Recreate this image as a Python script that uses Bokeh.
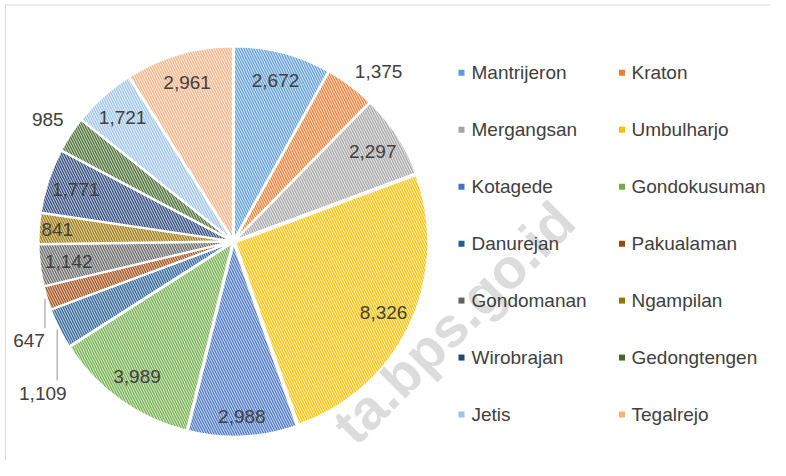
import math
from bokeh.plotting import figure
from bokeh.models import ColumnDataSource, Range1d
from bokeh.core.properties import value
from bokeh.embed import file_html
from bokeh.resources import INLINE

# ---- data ----
districts = ["Mantrijeron", "Kraton", "Mergangsan", "Umbulharjo", "Kotagede",
             "Gondokusuman", "Danurejan", "Pakualaman", "Gondomanan", "Ngampilan",
             "Wirobrajan", "Gedongtengen", "Jetis", "Tegalrejo"]
counts = [2672, 1375, 2297, 8326, 2988, 3989, 1109, 647, 1142, 841, 1771, 985, 1721, 2961]

# ---- styles ----
colors = ["#5B9BD5", "#ED7D31", "#A5A5A5", "#FFC000", "#4472C4", "#70AD47",
          "#255E91", "#9E480E", "#636363", "#997300", "#264478", "#43682B",
          "#9DC3E6", "#F4B183"]

W, H = 770, 460
FONT = "Liberation Sans"
TXT = "#404040"


def tint(hexc, f):
    h = hexc.lstrip("#")
    r, g, b = (int(h[i:i + 2], 16) for i in (0, 2, 4))
    r = round(r + (255 - r) * f)
    g = round(g + (255 - g) * f)
    b = round(b + (255 - b) * f)
    return "#%02X%02X%02X" % (r, g, b)


def sx(x):  # picture px -> data
    return x


def sy(y):
    return H - y


p = figure(width=W, height=H, output_backend="svg", toolbar_location=None,
           x_range=Range1d(0, W), y_range=Range1d(0, H), min_border=0)
p.axis.visible = False
p.grid.visible = False
p.outline_line_color = None
p.background_fill_color = "white"
p.border_fill_color = "white"

# frame (top & left visible in reference)
p.segment(x0=[sx(5), sx(5)], y0=[sy(4.5), sy(4.5)], x1=[W, sx(5)], y1=[sy(4.5), 0],
          line_color="#D9D9D9", line_width=1)

# watermark (behind the pie)
p.text(x=[sx(453)], y=[sy(322)], text=["ta.bps.go.id"], angle=math.radians(45),
       text_font=value(FONT), text_font_style="bold", text_font_size="56px",
       text_color="#DCDCDC", text_align="center", text_baseline="middle")

# ---- pie ----
cx, cy, R, EXP = sx(233), sy(241), 193, 2.0
total = float(sum(counts))
starts, ends, mids = [], [], []
acc = 0.0
for c in counts:
    t0 = acc / total * 2 * math.pi
    acc += c
    t1 = acc / total * 2 * math.pi
    starts.append(t0)
    ends.append(t1)
    mids.append((t0 + t1) / 2)

src = ColumnDataSource(dict(
    x=[cx + EXP * math.sin(m) for m in mids],
    y=[cy + EXP * math.cos(m) for m in mids],
    sa=[math.pi / 2 - e for e in ends],
    ea=[math.pi / 2 - s for s in starts],
    fill=[tint(c, 0.68) for c in colors],
    hatch=colors,
))
p.wedge(x="x", y="y", radius=R, start_angle="sa", end_angle="ea", source=src,
        fill_color="fill", hatch_pattern="\\", hatch_color="hatch",
        hatch_weight=1.1, hatch_scale=5, line_color="white", line_width=2)

# ---- data labels ----
inside_r = {4: 0.91, 9: 0.915}
outside = {1: (12, -8), 6: (8, -53), 7: (8, -35), 11: (0, 0)}
lx, ly, lt = [], [], []
for i, (c, m) in enumerate(zip(counts, mids)):
    if i in outside:
        r = 222
        ox, oy = outside[i]
    else:
        r = R * inside_r.get(i, 0.86)
        ox, oy = 0, 0
    lx.append(cx + r * math.sin(m) + ox)
    ly.append(cy + r * math.cos(m) + oy)
    lt.append(f"{c:,}")
p.text(x=lx, y=ly, text=lt, text_font=value(FONT), text_font_size="19px",
       text_color=TXT, text_align="center", text_baseline="middle")

# leader lines for the two pushed-down labels
lead_x0, lead_y0, lead_y1 = [], [], []
for i in (6, 7):
    m = mids[i]
    lead_x0.append(cx + (R + 4) * math.sin(m))
    lead_y0.append(cy + (R + 4) * math.cos(m))
    lead_y1.append(ly[i] + 13)
p.segment(x0=lead_x0, y0=lead_y0, x1=lead_x0, y1=lead_y1,
          line_color="#A6A6A6", line_width=1.2)

# ---- legend (2 columns) ----
col_marker = [sx(461), sx(621.5)]
col_text = [sx(471), sx(631)]
row0, gap = sy(72.3), 56.95
mx, my, tx, ty = [], [], [], []
for i, name in enumerate(districts):
    col, row = i % 2, i // 2
    yy = row0 - row * gap
    mx.append(col_marker[col])
    my.append(yy)
    tx.append(col_text[col])
    ty.append(yy)
p.rect(x=mx, y=my, width=6, height=6, fill_color=colors, line_color=None)
p.text(x=tx, y=ty, text=districts, text_font=value(FONT), text_font_size="19px",
       text_color=TXT, text_align="left", text_baseline="middle")

open("out.html", "w").write(file_html(p, INLINE))
